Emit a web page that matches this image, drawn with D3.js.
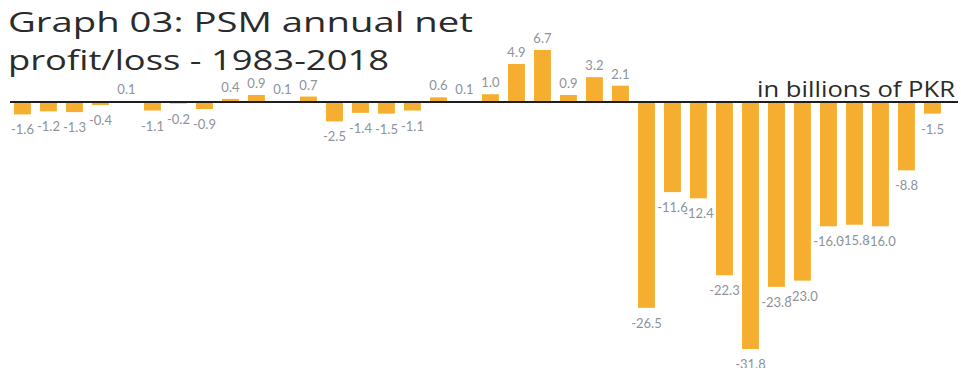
<!DOCTYPE html>
<html>
<head>
<meta charset="utf-8">
<script src="https://cdn.jsdelivr.net/npm/d3@7"></script>
<style>
  html, body { margin: 0; padding: 0; background: #fff; }
  svg { display: block; }
</style>
</head>
<body>
<div id="chart"></div>
<script>
const years = d3.range(1983, 2019).map(String);
const values = [-1.6, -1.2, -1.3, -0.4, 0.1, -1.1, -0.2, -0.9, 0.4, 0.9, 0.1, 0.7,
  -2.5, -1.4, -1.5, -1.1, 0.6, 0.1, 1.0, 4.9, 6.7, 0.9, 3.2, 2.1,
  -26.5, -11.6, -12.4, -22.3, -31.8, -23.8, -23.0, -16.0, -15.8, -16.0, -8.8, -1.5];
const valueLabels = ["-1.6","-1.2","-1.3","-0.4","0.1","-1.1","-0.2","-0.9","0.4","0.9","0.1","0.7",
  "-2.5","-1.4","-1.5","-1.1","0.6","0.1","1.0","4.9","6.7","0.9","3.2","2.1",
  "-26.5","-11.6","-12.4","-22.3","-31.8","-23.8","-23.0","-16.0","-15.8","-16.0","-8.8","-1.5"];
const titleLines = ["Graph 03: PSM annual net", "profit/loss - 1983-2018"];
const unitLabel = "in billions of PKR";

const W = 961, H = 368;
const svg = d3.select("#chart").append("svg").attr("width", W).attr("height", H);

const x = d3.scaleBand().domain(years).range([9.45, 945.45]).paddingInner(0.35).paddingOuter(0.175);
const y = d3.scaleLinear().domain([-31.8, 0]).range([349, 102]);

const data = years.map((yr, i) => ({ yr, v: values[i], label: valueLabels[i] }));

svg.append("g").selectAll("rect").data(data).join("rect")
  .attr("x", d => x(d.yr))
  .attr("width", x.bandwidth())
  .attr("y", d => Math.min(y(d.v), y(0)))
  .attr("height", d => Math.abs(y(d.v) - y(0)))
  .attr("fill", "#F6AE30");

svg.append("line")
  .attr("x1", 10).attr("x2", 958)
  .attr("y1", y(0)).attr("y2", y(0))
  .attr("stroke", "#1e1e1e").attr("stroke-width", 2);

svg.append("g").selectAll("text").data(data).join("text")
  .attr("x", d => x(d.yr) + x.bandwidth() / 2)
  .attr("y", d => d.v >= 0 ? y(d.v) - 7 : y(d.v) + 20)
  .attr("text-anchor", "middle")
  .attr("font-family", "Lato, 'Open Sans', sans-serif")
  .attr("font-size", 13)
  .attr("fill", "#8e9299")
  .text(d => d.label);

const title = svg.append("g").attr("font-family", "'Open Sans', sans-serif")
  .attr("font-size", 27).attr("font-weight", 400).attr("fill", "#2b2b2b");
title.append("text").attr("x", 8).attr("y", 32)
  .attr("textLength", 465).attr("lengthAdjust", "spacingAndGlyphs").text(titleLines[0]);
title.append("text").attr("x", 8).attr("y", 70)
  .attr("textLength", 381).attr("lengthAdjust", "spacingAndGlyphs").text(titleLines[1]);

svg.append("text").attr("x", 955).attr("y", 97)
  .attr("text-anchor", "end")
  .attr("font-family", "'Open Sans', sans-serif")
  .attr("font-size", 21).attr("font-weight", 400).attr("fill", "#2b2b2b")
  .attr("textLength", 198).attr("lengthAdjust", "spacingAndGlyphs")
  .text(unitLabel);
</script>
</body>
</html>
